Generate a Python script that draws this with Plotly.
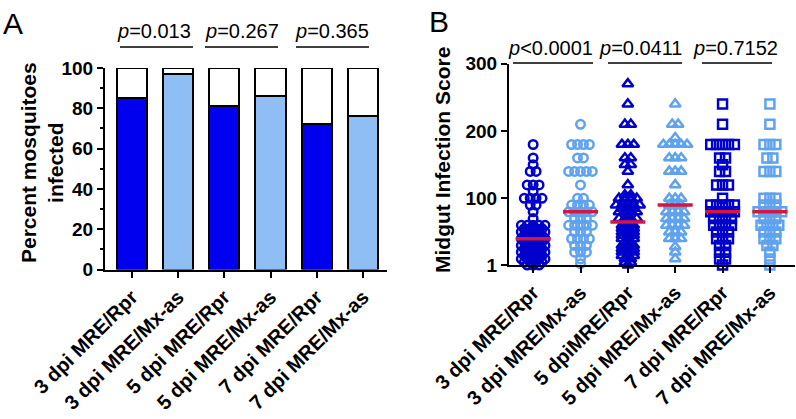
import numpy as np
import plotly.graph_objects as go

W, H = 796, 419

# ---------------- Panel A data ----------------
groups_a = ["3 dpi MRE/Rpr", "3 dpi MRE/Mx-as", "5 dpi MRE/Rpr",
            "5 dpi MRE/Mx-as", "7 dpi MRE/Rpr", "7 dpi MRE/Mx-as"]
pct_infected = [85, 97, 81, 86, 72, 76]
pvals_a = ["<i>p</i>=0.013", "<i>p</i>=0.267", "<i>p</i>=0.365"]

# ---------------- Panel B data ----------------
groups_b = ["3 dpi MRE/Rpr", "3 dpi MRE/Mx-as", "5 dpiMRE/Rpr",
            "5 dpi MRE/Mx-as", "7 dpi MRE/Rpr", "7 dpi MRE/Mx-as"]
pvals_b = ["<i>p</i>&lt;0.0001", "<i>p</i>=0.0411", "<i>p</i>=0.7152"]

# score levels and number of mosquitoes at each level
lv_3_rpr = [180, 160, 150, 140, 120, 110, 100, 90, 80, 70, 60, 55, 50, 45, 40, 35, 30, 25, 20, 15, 10, 5, 1]
ct_3_rpr = [1, 1, 1, 2, 3, 1, 4, 2, 1, 1, 5, 4, 5, 4, 5, 4, 5, 4, 5, 4, 5, 4, 3]
lv_3_mx = [210, 180, 160, 140, 120, 100, 90, 80, 70, 60, 50, 40, 30, 20, 10, 3]
ct_3_mx = [1, 4, 2, 5, 1, 2, 4, 5, 3, 5, 3, 4, 3, 3, 1, 1]
lv_5_rpr = [270, 240, 210, 180, 160, 150, 140, 120, 105, 100, 90, 85, 80, 70, 65, 60, 55, 50, 45, 40, 35, 30, 25, 20, 15, 10, 5, 1]
ct_5_rpr = [1, 1, 2, 3, 2, 2, 1, 1, 2, 4, 5, 3, 4, 4, 2, 3, 3, 3, 3, 3, 2, 3, 3, 3, 3, 2, 2, 1]
lv_5_mx = [240, 210, 190, 180, 160, 140, 120, 100, 90, 80, 70, 60, 50, 40, 28, 20, 10]
ct_5_mx = [1, 2, 1, 5, 3, 3, 1, 3, 3, 4, 4, 4, 3, 3, 1, 1, 1]
lv_7_rpr = [240, 210, 180, 160, 150, 140, 120, 100, 90, 80, 70, 60, 50, 40, 30, 20, 10, 1]
ct_7_rpr = [1, 1, 5, 2, 1, 2, 3, 1, 5, 5, 4, 4, 3, 3, 2, 2, 2, 1]
lv_7_mx = [240, 210, 180, 160, 140, 100, 90, 80, 70, 60, 50, 40, 30, 20, 10, 1]
ct_7_mx = [1, 1, 3, 2, 3, 3, 3, 5, 3, 4, 3, 3, 2, 1, 1, 1]

levels_b = [lv_3_rpr, lv_3_mx, lv_5_rpr, lv_5_mx, lv_7_rpr, lv_7_mx]
counts_b = [ct_3_rpr, ct_3_mx, ct_5_rpr, ct_5_mx, ct_7_rpr, ct_7_mx]

DARK_BAR = "#0000EE"
LIGHT_BAR = "#8FBEF4"
DARK_PT = "#0000CC"
LIGHT_PT = "#5FA2EE"
RED = "#D3173E"
FONT = "Liberation Sans, Arial, sans-serif"

def px(x):
    return x / W

def py(y):
    return 1 - y / H

fig = go.Figure()

# ---------------- Panel A bars ----------------
xa = list(range(len(groups_a)))
bar_cols = [DARK_BAR if i % 2 == 0 else LIGHT_BAR for i in xa]
fig.add_trace(go.Bar(x=xa, y=pct_infected, width=0.65,
                     marker=dict(color=bar_cols, line=dict(color="black", width=2)),
                     xaxis="x", yaxis="y", showlegend=False))
fig.add_trace(go.Bar(x=xa, y=[100 - v for v in pct_infected], width=0.65,
                     marker=dict(color="white", line=dict(color="black", width=2)),
                     xaxis="x", yaxis="y", showlegend=False))

# ---------------- Panel B scatter ----------------
symbols = ["circle-open", "circle-open", "triangle-up-open", "triangle-up-open",
           "square-open", "square-open"]
sizes = [8.5, 8.5, 9.5, 9.5, 9, 9]
step = 0.125
med_x, med_y = [], []
for gi, (lv, ct) in enumerate(zip(levels_b, counts_b)):
    xs, ys = [], []
    for v, n in zip(lv, ct):
        for k in range(n):
            xs.append(gi + (k - (n - 1) / 2) * step)
            ys.append(v)
    col = DARK_PT if gi % 2 == 0 else LIGHT_PT
    fig.add_trace(go.Scatter(x=xs, y=ys, mode="markers", xaxis="x2", yaxis="y2",
                             marker=dict(symbol=symbols[gi], size=sizes[gi], color=col,
                                         line=dict(color=col, width=2.5)),
                             cliponaxis=False, showlegend=False))
    med = float(np.median(ys))
    med_x += [gi - 0.37, gi + 0.37, None]
    med_y += [med, med, None]

fig.add_trace(go.Scatter(x=med_x, y=med_y, mode="lines", xaxis="x2", yaxis="y2",
                         line=dict(color=RED, width=3.5), cliponaxis=False,
                         showlegend=False))

xtickfont = dict(family=FONT, size=20, color="black", weight="bold")
ytickfont = dict(family=FONT, size=19, color="black", weight="bold")

common = dict(ticks="outside", ticklen=6, tickwidth=2, tickcolor="black",
              showline=True, linewidth=2, linecolor="black",
              showgrid=False, zeroline=False, automargin=False)

fig.update_layout(
    template="none",
    width=W, height=H, margin=dict(l=0, r=0, t=0, b=0, autoexpand=False),
    paper_bgcolor="white", plot_bgcolor="white",
    barmode="stack", showlegend=False,
    font=dict(family=FONT, color="black"),
    xaxis=dict(domain=[px(105), px(387)], range=[-0.58, 5.52],
               tickvals=xa, ticktext=groups_a, tickangle=-45, anchor="y",
               tickfont=xtickfont, **common),
    yaxis=dict(domain=[py(269.5), py(68)], range=[0, 100],
               tickvals=[0, 20, 40, 60, 80, 100],
               minor=dict(dtick=10, ticks="outside", ticklen=3, tickwidth=2, tickcolor="black"),
               anchor="x", tickfont=ytickfont, **common),
    xaxis2=dict(domain=[px(509), px(795)], range=[-0.51, 5.53],
                tickvals=list(range(6)), ticktext=groups_b, tickangle=-45,
                anchor="y2", tickfont=xtickfont, **common),
    yaxis2=dict(domain=[py(265), py(63.7)], range=[1, 300],
                tickvals=[1, 100, 200, 300], anchor="x2", tickfont=ytickfont, **common),
)

def note(text, x, y, size, angle=0):
    return dict(text=text, x=px(x), y=py(y), xref="paper", yref="paper",
                xanchor="center", yanchor="middle", showarrow=False,
                textangle=angle, font=dict(family=FONT, size=size, color="black"))

ann = []
ann.append(note("A", 13, 24, 30))
ann.append(note("B", 439, 22, 30))
ann.append(note("<b>Percent mosquitoes<br>infected</b>", 42, 163, 21, -90))
ann.append(note("<b>Midgut Infection Score</b>", 443, 160, 21, -90))

pa_cx = [154, 242, 332]
pa_lines = [(120, 193), (205, 278), (296, 369)]
for t, cx in zip(pvals_a, pa_cx):
    ann.append(note(t, cx, 31, 20))
pb_cx = [550, 641, 735]
pb_lines = [(513, 593), (608, 682), (702, 772)]
for t, cx in zip(pvals_b, pb_cx):
    ann.append(note(t, cx, 48, 20))

shapes = []
for x0, x1 in pa_lines:
    shapes.append(dict(type="line", xref="paper", yref="paper", x0=px(x0), x1=px(x1),
                       y0=py(47), y1=py(47), line=dict(color="black", width=1.5)))
for x0, x1 in pb_lines:
    shapes.append(dict(type="line", xref="paper", yref="paper", x0=px(x0), x1=px(x1),
                       y0=py(63), y1=py(63), line=dict(color="black", width=1.5)))

fig.update_layout(annotations=ann, shapes=shapes)
fig.write_html("out.html", config={"displayModeBar": False},
               post_script="document.body.style.margin='0';document.body.style.padding='0';")
